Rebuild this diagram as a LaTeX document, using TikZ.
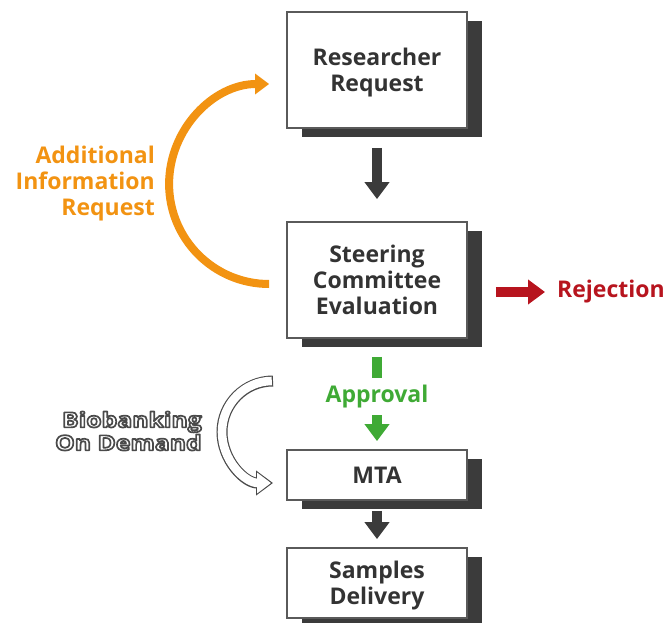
\documentclass[tikz,border=0pt]{standalone}
\usepackage{fontspec}
\setmainfont{Open Sans}
\newfontfamily\bodfont[FakeStretch=1.18]{Open Sans}
\usetikzlibrary{arrows.meta, positioning, shadows}

\definecolor{boxline}{HTML}{5A5A5A}
\definecolor{boxshadow}{HTML}{3B3B3B}
\definecolor{boxtext}{HTML}{333333}
\definecolor{inforange}{HTML}{F29312}
\definecolor{rejectred}{HTML}{B7141E}
\definecolor{approvegreen}{HTML}{3FAA35}
\definecolor{bodline}{HTML}{4A4A4A}

\newcommand{\flowfont}{\fontsize{23}{26}\selectfont\bfseries}
% white letters with a dark outline
\newcommand{\hollow}[1]{{\color{white}\special{pdf:literal direct 0.29 0.29 0.29 RG 1.7 w 1 j 2 Tr}#1\special{pdf:literal direct 0 Tr}}}

\begin{document}
\begin{tikzpicture}[x=1pt, y=-1pt,
    stepbox/.style={draw=boxline, line width=1.8pt, fill=white, text=boxtext,
      minimum width=180pt, align=center, font=\flowfont,
      drop shadow={shadow xshift=15pt, shadow yshift=-9pt, fill=boxshadow, opacity=1}},
    fatarrow/.style={line width=10pt, -{Triangle[width=24pt,length=17pt]}},
    sidelabel/.style={font=\flowfont, inner sep=2pt}
  ]
  \useasboundingbox (0,0) rectangle (672,623);

  % Boxes of the flow
  \node[stepbox, minimum height=116pt, text depth=-12pt] (req) at (377,70) {Researcher\\Request};
  \node[stepbox, minimum height=116pt] (eval) at (377,280) {Steering\\Committee\\Evaluation};
  \node[stepbox, minimum height=50pt] (mta) at (377,475) {MTA};
  \node[stepbox, minimum height=70pt, text depth=-9pt] (deliv) at (377,583) {Samples\\Delivery};

  % Main arrows
  \draw[fatarrow, boxshadow, shorten <=19pt, shorten >=22pt] (req) -- (eval);
  \draw[fatarrow, boxshadow, shorten <=10pt, shorten >=8pt] (mta) -- (deliv);
  \draw[fatarrow, approvegreen, shorten <=18pt, shorten >=8pt] (eval) -- (mta)
    node[pos=0.52, sidelabel, fill=white, inner ysep=7pt, text=approvegreen] (appr) {Approval};

  % Rejection
  \node[sidelabel, text=rejectred, anchor=west] (rej) at (555,292) {Rejection};
  \draw[fatarrow, rejectred, shorten <=28pt, shorten >=10pt] (eval.east |- rej.west) -- (rej.west);

  % Additional information loop
  \node[sidelabel, text=inforange, align=right, anchor=east] (info) at (157,184)
    {Additional\\Information\\Request};
  \draw[line width=8pt, inforange, -{Triangle[width=20pt,length=14pt]}]
    ([xshift=-17pt, yshift=-4pt]eval.west) arc[start angle=90, end angle=270, radius=100];

  % Biobanking on demand
  \node[font=\fontsize{21}{23}\selectfont\bodfont\bfseries, inner sep=2pt, align=right, anchor=east] (bod)
    at (204,431) {\hollow{Biobanking}\\\hollow{On Demand}};
  \coordinate (bodtop) at (273,381);
  \draw[line width=11pt, bodline, -{Triangle[width=24pt,length=17pt]}]
    (bodtop) arc[start angle=270, end angle=90, radius=51];
  \draw[line width=8.6pt, white, shorten <=1.2pt, shorten >=2pt, -{Triangle[width=19.8pt,length=13.8pt]}]
    (bodtop) arc[start angle=270, end angle=90, radius=51];
\end{tikzpicture}
\end{document}
